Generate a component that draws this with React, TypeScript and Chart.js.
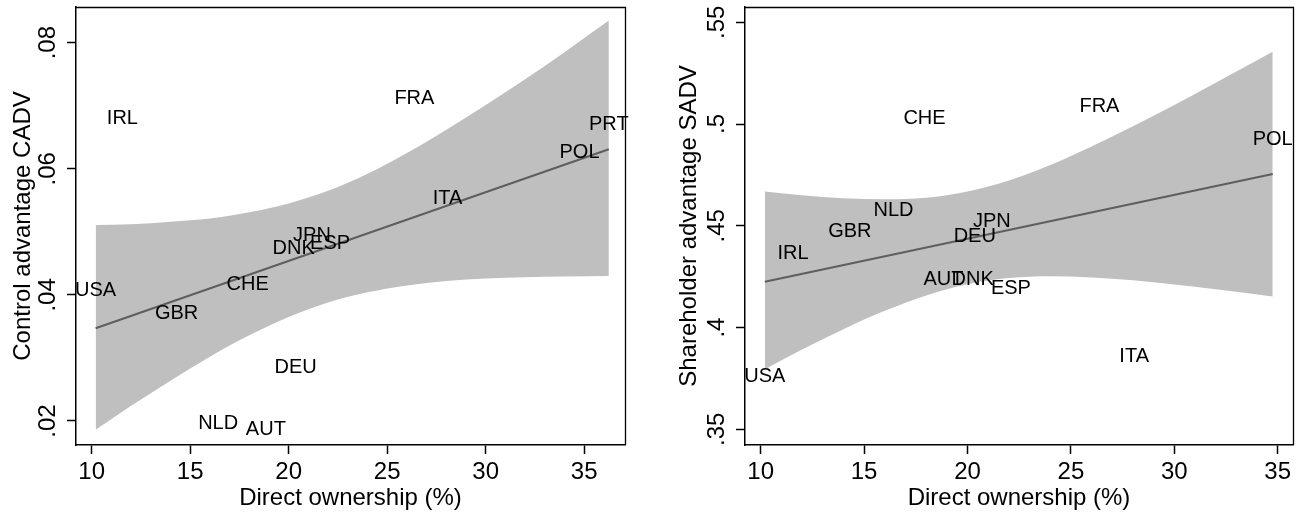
import React, { useEffect, useRef } from 'react';
import { Chart, registerables } from 'chart.js';

Chart.register(...registerables);

const FONT = '"Liberation Sans", Arial, Helvetica, sans-serif';

// ---- data ----
const countries = ['USA', 'IRL', 'GBR', 'NLD', 'CHE', 'AUT', 'DNK', 'DEU', 'JPN', 'ESP', 'FRA', 'ITA', 'POL', 'PRT'];
const ownership = [10.2, 11.56, 14.31, 16.42, 17.92, 18.84, 20.25, 20.35, 21.18, 22.1, 26.38, 28.06, 34.76, 36.25];
const cadv = [0.0407, 0.068, 0.0371, 0.0196, 0.0416, 0.0187, 0.0474, 0.0285, 0.0494, 0.0482, 0.0711, 0.0553, 0.0626, 0.067];
const sadv = [0.3762, 0.4365, 0.4473, 0.4576, 0.5027, 0.4236, 0.4236, 0.4447, 0.4519, 0.4194, 0.5086, 0.386, 0.4924, null];

const xTicks = [10, 15, 20, 25, 30, 35];
const cadvTicks = [0.02, 0.04, 0.06, 0.08];
const sadvTicks = [0.35, 0.4, 0.45, 0.5, 0.55];

// fitted line (end points) and confidence band
const cadvFitX = [10.2, 36.25];
const cadvFitY = [0.0347, 0.0631];
const cadvBandX = [10.2, 12, 14, 16, 18, 20, 22, 24, 26, 28, 30, 32, 34, 36.25];
const cadvBandUpper = [0.0511, 0.0512, 0.0516, 0.0521, 0.0531, 0.0545, 0.0565, 0.0592, 0.0625, 0.0662, 0.0701, 0.0742, 0.0785, 0.0835];
const cadvBandLower = [0.0186, 0.0224, 0.0264, 0.0302, 0.0336, 0.0365, 0.0388, 0.0404, 0.0415, 0.0422, 0.0426, 0.0428, 0.0429, 0.043];

const sadvFitX = [10.2, 34.76];
const sadvFitY = [0.4225, 0.4754];
const sadvBandX = [10.2, 12, 14, 16, 18, 20, 22, 24, 26, 28, 30, 32, 34.76];
const sadvBandUpper = [0.4669, 0.465, 0.4635, 0.463, 0.4638, 0.4669, 0.4723, 0.4799, 0.489, 0.4989, 0.5094, 0.5203, 0.5355];
const sadvBandLower = [0.3795, 0.3892, 0.3992, 0.4082, 0.4158, 0.4213, 0.4243, 0.4252, 0.4246, 0.4232, 0.4211, 0.4188, 0.4153];

interface PanelSpec {
  yValues: (number | null)[];
  yTicks: number[];
  yMin: number;
  yMax: number;
  xMin: number;
  xMax: number;
  fitX: number[];
  fitY: number[];
  bandX: number[];
  bandUpper: number[];
  bandLower: number[];
  yTitle: string;
  areaLeft: number;
  padRight: number;
  yTitlePad: number;
}

const leftSpec: PanelSpec = {
  yValues: cadv,
  yTicks: cadvTicks,
  yMin: 0.01619,
  yMax: 0.08566,
  xMin: 9.203,
  xMax: 37.07,
  fitX: cadvFitX,
  fitY: cadvFitY,
  bandX: cadvBandX,
  bandUpper: cadvBandUpper,
  bandLower: cadvBandLower,
  yTitle: 'Control advantage CADV',
  areaLeft: 76,
  padRight: 25,
  yTitlePad: 9,
};

const rightSpec: PanelSpec = {
  yValues: sadv,
  yTicks: sadvTicks,
  yMin: 0.3423,
  yMax: 0.5575,
  xMin: 9.24,
  xMax: 35.74,
  fitX: sadvFitX,
  fitY: sadvFitY,
  bandX: sadvBandX,
  bandUpper: sadvBandUpper,
  bandLower: sadvBandLower,
  yTitle: 'Shareholder advantage SADV',
  areaLeft: 95,
  padRight: 7,
  yTitlePad: 25,
};

function fmtY(v: number): string {
  const s = String(v);
  return s.startsWith('0.') ? s.slice(1) : s;
}

function makeChart(canvas: HTMLCanvasElement, spec: PanelSpec): Chart {
  const pts = countries
    .map((c, i) => ({ x: ownership[i], y: spec.yValues[i], label: c }))
    .filter((p) => p.y !== null) as { x: number; y: number; label: string }[];

  const labelPlugin = {
    id: 'countryLabels',
    afterDatasetsDraw(chart: any) {
      const { ctx, scales } = chart;
      ctx.save();
      ctx.fillStyle = '#000';
      ctx.font = `20px ${FONT}`;
      ctx.textAlign = 'center';
      ctx.textBaseline = 'middle';
      pts.forEach((p) => {
        const px = scales.x.getPixelForValue(p.x);
        const py = scales.y.getPixelForValue(p.y);
        ctx.fillText(p.label, px, py);
      });
      ctx.restore();
    },
  };

  const framePlugin = {
    id: 'frame',
    afterDraw(chart: any) {
      const { ctx, chartArea } = chart;
      ctx.save();
      ctx.strokeStyle = '#000';
      ctx.lineWidth = 1.3;
      ctx.beginPath();
      ctx.moveTo(chartArea.left, chartArea.top + 0.5);
      ctx.lineTo(chartArea.right + 0.5, chartArea.top + 0.5);
      ctx.lineTo(chartArea.right + 0.5, chartArea.bottom);
      ctx.stroke();
      ctx.restore();
    },
  };

  const tickFont = { family: FONT, size: 24 };

  return new Chart(canvas, {
    type: 'line',
    data: {
      datasets: [
        {
          label: 'lower',
          data: spec.bandX.map((x, i) => ({ x, y: spec.bandLower[i] })),
          pointRadius: 0,
          borderWidth: 0,
          borderColor: 'rgba(0,0,0,0)',
          fill: false,
          cubicInterpolationMode: 'monotone',
          order: 10,
        },
        {
          label: 'upper',
          data: spec.bandX.map((x, i) => ({ x, y: spec.bandUpper[i] })),
          pointRadius: 0,
          borderWidth: 0,
          borderColor: 'rgba(0,0,0,0)',
          backgroundColor: '#bfbfbf',
          fill: '-1',
          cubicInterpolationMode: 'monotone',
          order: 9,
        },
        {
          label: 'fit',
          data: spec.fitX.map((x, i) => ({ x, y: spec.fitY[i] })),
          pointRadius: 0,
          borderWidth: 2,
          borderColor: '#5e5e5e',
          fill: false,
          order: 1,
        },
        {
          label: 'countries',
          data: pts.map((p) => ({ x: p.x, y: p.y })),
          pointRadius: 0,
          borderWidth: 0,
          showLine: false,
          fill: false,
          order: 0,
        },
      ],
    } as any,
    options: {
      responsive: false,
      animation: false,
      devicePixelRatio: 1,
      events: [],
      layout: { padding: { top: 7, right: spec.padRight, left: 0, bottom: 0 } },
      plugins: { legend: { display: false }, tooltip: { enabled: false } },
      scales: {
        x: {
          type: 'linear',
          min: spec.xMin,
          max: spec.xMax,
          afterBuildTicks: (s: any) => {
            s.ticks = xTicks.map((v) => ({ value: v }));
          },
          afterFit: (s: any) => {
            s.height = 71;
            s.paddingLeft = 0;
            s.paddingRight = 0;
          },
          ticks: {
            autoSkip: false,
            maxRotation: 0,
            minRotation: 0,
            padding: 4,
            color: '#000',
            font: tickFont,
            callback: (v: any) => String(v),
          },
          grid: {
            display: true,
            drawOnChartArea: false,
            drawTicks: true,
            tickLength: 9,
            tickWidth: 1.5,
            tickColor: '#000',
          },
          border: { display: true, color: '#000', width: 1.5 },
          title: {
            display: true,
            text: 'Direct ownership (%)',
            color: '#000',
            font: { family: FONT, size: 24 },
            padding: { top: 0, bottom: 3 },
          },
        },
        y: {
          type: 'linear',
          position: 'left',
          min: spec.yMin,
          max: spec.yMax,
          afterBuildTicks: (s: any) => {
            s.ticks = spec.yTicks.map((v) => ({ value: v }));
          },
          afterFit: (s: any) => {
            s.width = spec.areaLeft;
            s.paddingTop = 0;
            s.paddingBottom = 0;
          },
          ticks: {
            autoSkip: false,
            minRotation: 90,
            maxRotation: 90,
            crossAlign: 'center',
            padding: 2,
            color: '#000',
            font: tickFont,
            callback: (v: any) => fmtY(Number(v)),
          },
          grid: {
            display: true,
            drawOnChartArea: false,
            drawTicks: true,
            tickLength: 9,
            tickWidth: 1.5,
            tickColor: '#000',
          },
          border: { display: true, color: '#000', width: 1.5 },
          title: {
            display: true,
            text: spec.yTitle,
            color: '#000',
            font: { family: FONT, size: 24 },
            padding: { top: spec.yTitlePad, bottom: 0 },
          },
        },
      },
    } as any,
    plugins: [labelPlugin, framePlugin],
  });
}

function Panel({ spec, left }: { spec: PanelSpec; left: number }) {
  const ref = useRef<HTMLCanvasElement | null>(null);
  useEffect(() => {
    if (!ref.current) return;
    const chart = makeChart(ref.current, spec);
    return () => chart.destroy();
  }, [spec]);
  return (
    <canvas
      ref={ref}
      width={650}
      height={516}
      style={{ position: 'absolute', left, top: 0, width: 650, height: 516, display: 'block' }}
    />
  );
}

export default function App() {
  return (
    <div
      style={{
        position: 'absolute',
        left: 0,
        top: 0,
        width: 1300,
        height: 516,
        background: '#fff',
        overflow: 'hidden',
      }}
    >
      <Panel spec={leftSpec} left={0} />
      <Panel spec={rightSpec} left={650} />
    </div>
  );
}
